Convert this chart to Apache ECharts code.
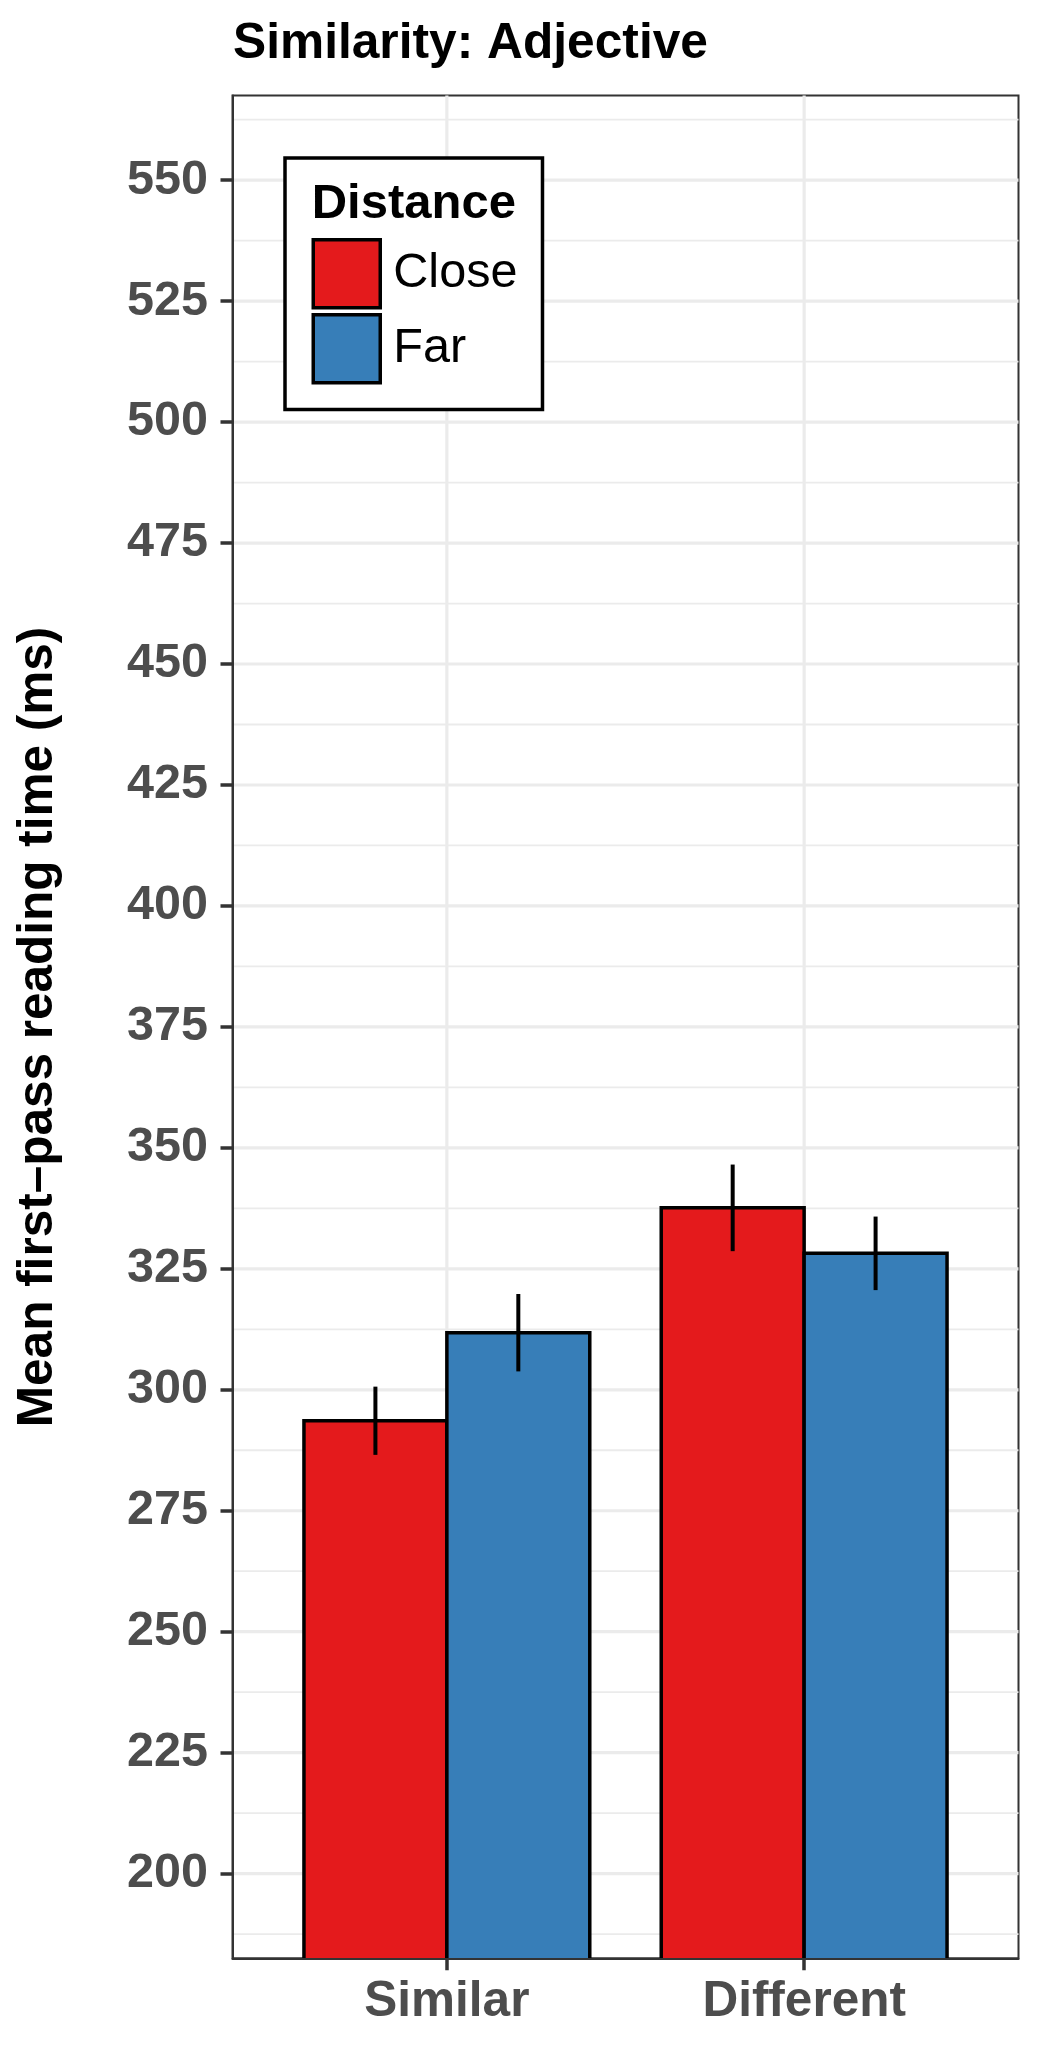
<!DOCTYPE html>
<html>
<head>
<meta charset="utf-8">
<script src="https://cdn.jsdelivr.net/npm/echarts@6/dist/echarts.min.js"></script>
<style>
html,body{margin:0;padding:0;background:#fff;}
#chart{width:1041px;height:2058px;}
</style>
</head>
<body>
<div id="chart"></div>
<script>
// ---- data ----
const CATEGORIES = ['Similar', 'Different'];
const GROUPS = ['Close', 'Far'];
const CLOSE_MEAN = [293.6, 337.6];
const CLOSE_SE = [7.05, 8.95];
const FAR_MEAN = [311.8, 328.2];
const FAR_SE = [8.0, 7.6];
const Y_TICKS = [200, 225, 250, 275, 300, 325, 350, 375, 400, 425, 450, 475, 500, 525, 550];
const Y_MINOR = [187.5, 212.5, 237.5, 262.5, 287.5, 312.5, 337.5, 362.5, 387.5, 412.5, 437.5, 462.5, 487.5, 512.5, 537.5, 562.5];
const X_TICKS = [1, 2];

const Y_MIN = 182.5, Y_MAX = 567.5;
const X_MIN = 0.4, X_MAX = 2.6;
const COLORS = ['#E41A1C', '#377EB8'];
const FONT = 'Liberation Sans, Arial, Helvetica, sans-serif';

const closeData = CLOSE_MEAN.map((v, i) => [i + 1, v, CLOSE_SE[i], 0]);
const farData = FAR_MEAN.map((v, i) => [i + 1, v, FAR_SE[i], 1]);

function barRender(params, api) {
  const x = api.value(0), v = api.value(1), s = api.value(3);
  const x0 = x + (s === 0 ? -0.4 : 0), x1 = x0 + 0.4;
  const tl = api.coord([x0, v]);
  const br = api.coord([x1, Y_MIN]);
  return {
    type: 'group',
    children: [
      { type: 'rect', shape: { x: tl[0], y: tl[1], width: br[0] - tl[0], height: br[1] - tl[1] },
        style: { fill: COLORS[s] } },
      { type: 'polyline', shape: { points: [[tl[0], br[1]], [tl[0], tl[1]], [br[0], tl[1]], [br[0], br[1]]] },
        style: { stroke: '#000', lineWidth: 3.5, fill: null, lineJoin: 'miter' } }
    ]
  };
}
function errRender(params, api) {
  const x = api.value(0), v = api.value(1), se = api.value(2), s = api.value(3);
  const xc = x + (s === 0 ? -0.2 : 0.2);
  const a = api.coord([xc, v - se]);
  const b = api.coord([xc, v + se]);
  return { type: 'line', shape: { x1: a[0], y1: a[1], x2: b[0], y2: b[1] },
    style: { stroke: '#000', lineWidth: 4 } };
}
function hGridRender(lw) {
  return function (params, api) {
    const v = api.value(0);
    const a = api.coord([X_MIN, v]), b = api.coord([X_MAX, v]);
    return { type: 'line', shape: { x1: a[0], y1: a[1], x2: b[0], y2: b[1] }, style: { stroke: '#EBEBEB', lineWidth: lw } };
  };
}
function vGridRender(params, api) {
  const v = api.value(0);
  const a = api.coord([v, Y_MIN]), b = api.coord([v, Y_MAX]);
  return { type: 'line', shape: { x1: a[0], y1: a[1], x2: b[0], y2: b[1] }, style: { stroke: '#EBEBEB', lineWidth: 3.2 } };
}

const chart = echarts.init(document.getElementById('chart'), null, { renderer: 'canvas' });
chart.setOption({
  animation: false,
  backgroundColor: '#fff',
  color: COLORS,
  title: {
    text: 'Similarity: Adjective',
    left: 233, top: 19, padding: 0,
    textStyle: { fontFamily: FONT, fontSize: 49.7, fontWeight: 'bold', color: '#000' }
  },
  grid: {
    left: 232.5, right: 22.5, top: 95.5, bottom: 99.7,
    containLabel: false, outerBoundsMode: 'none',
    show: true, borderColor: '#333333', borderWidth: 2, backgroundColor: '#fff'
  },
  legend: {
    data: GROUPS,
    orient: 'vertical',
    left: 285, top: 158,
    padding: [80, 25, 25, 26.5],
    itemWidth: 67, itemHeight: 68, itemGap: 3.6,
    icon: 'rect',
    itemStyle: { borderColor: '#000', borderWidth: 3.5 },
    backgroundColor: '#fff', borderColor: '#000', borderWidth: 3.5,
    textStyle: { fontFamily: FONT, fontSize: 48.6, color: '#000', padding: [0, 0, 0, 8] },
    selectedMode: false, z: 10
  },
  graphic: [{
    type: 'text', left: 311.7, top: 180, z: 100,
    style: { text: 'Distance', font: 'bold 49px ' + FONT, fill: '#000' }
  }],
  xAxis: {
    type: 'value', min: X_MIN, max: X_MAX,
    z: 5,
    axisLine: { show: true, onZero: false, lineStyle: { color: '#333333', width: 2 } },
    axisTick: { show: true, customValues: X_TICKS, length: 12, lineStyle: { color: '#333333', width: 3.5 } },
    axisLabel: { customValues: X_TICKS, margin: 19.5, fontFamily: FONT, fontSize: 49.5, fontWeight: 'bold', color: '#4D4D4D',
      formatter: v => CATEGORIES[Math.round(v) - 1] || '' },
    splitLine: { show: false }
  },
  yAxis: {
    type: 'value', min: Y_MIN, max: Y_MAX,
    z: 5,
    name: 'Mean first–pass reading time (ms)',
    nameLocation: 'middle', nameRotate: 90, nameGap: 169,
    nameTextStyle: { fontFamily: FONT, fontSize: 49.5, fontWeight: 'bold', color: '#000' },
    axisLine: { show: true, lineStyle: { color: '#333333', width: 2 } },
    axisTick: { show: true, customValues: Y_TICKS, length: 12, lineStyle: { color: '#333333', width: 3.5 } },
    axisLabel: { customValues: Y_TICKS, margin: 24.5, fontFamily: FONT, fontSize: 48.5, fontWeight: 'bold', color: '#4D4D4D' },
    splitLine: { show: false }
  },
  series: [
    { type: 'custom', silent: true, z: 1, renderItem: hGridRender(1.8), data: Y_MINOR.map(v => [v]), encode: { y: 0 } },
    { type: 'custom', silent: true, z: 1, renderItem: hGridRender(3.2), data: Y_TICKS.map(v => [v]), encode: { y: 0 } },
    { type: 'custom', silent: true, z: 1, renderItem: vGridRender, data: X_TICKS.map(v => [v]), encode: { x: 0 } },
    { name: 'Close', type: 'custom', z: 2, renderItem: barRender, data: closeData, itemStyle: { color: COLORS[0] }, encode: { x: 0, y: 1 } },
    { name: 'Far', type: 'custom', z: 2, renderItem: barRender, data: farData, itemStyle: { color: COLORS[1] }, encode: { x: 0, y: 1 } },
    { type: 'custom', z: 3, renderItem: errRender, data: closeData.concat(farData), encode: { x: 0, y: 1 } }
  ]
});
</script>
</body>
</html>
